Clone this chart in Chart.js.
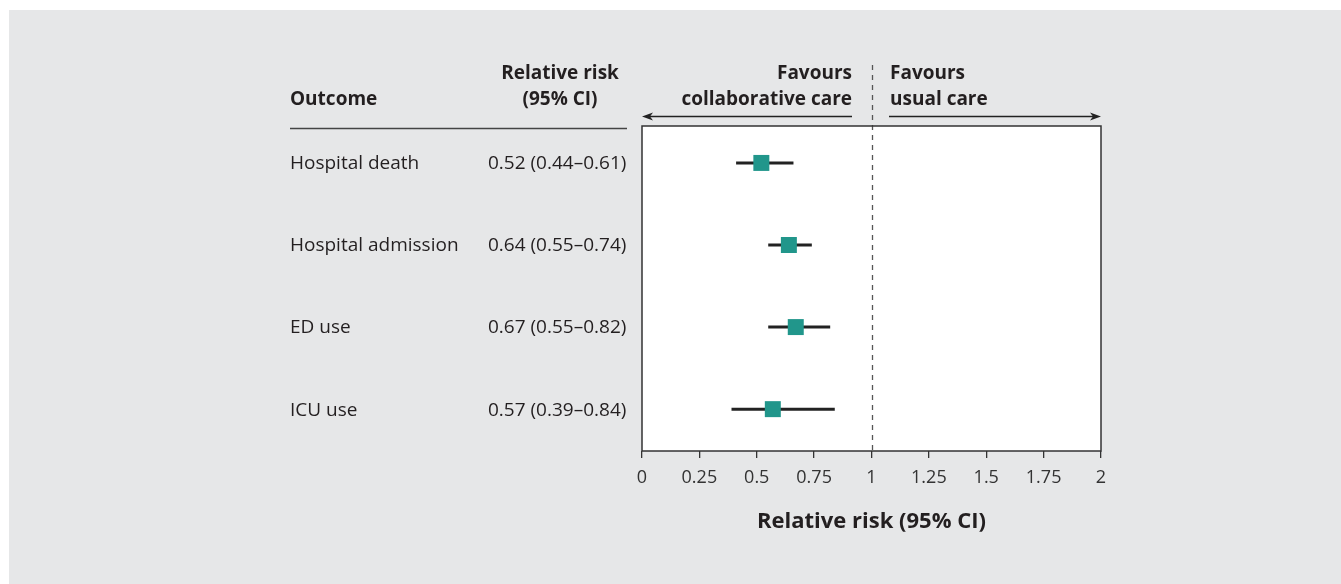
<!DOCTYPE html>
<html>
<head>
<meta charset="utf-8">
<script src="https://cdn.jsdelivr.net/npm/chart.js@4/dist/chart.umd.min.js"></script>
<style>
  html,body{margin:0;padding:0;background:#fff;}
  #wrap{position:absolute;left:9px;top:10px;width:1332px;height:574px;background:#e6e7e8;}
  canvas{display:block;}
</style>
</head>
<body>
<div id="wrap"><canvas id="forest" width="1332" height="574"></canvas></div>
<script>
// forest plot — collaborative care vs usual care
const outcomes = ["Hospital death","Hospital admission","ED use","ICU use"];
const rrLabels = ["0.52 (0.44–0.61)","0.64 (0.55–0.74)","0.67 (0.55–0.82)","0.57 (0.39–0.84)"];
const rr   = [0.52, 0.64, 0.67, 0.57];
const ciLo = [0.41, 0.55, 0.55, 0.39];
const ciHi = [0.66, 0.74, 0.82, 0.84];
const xTicks = [0,0.25,0.5,0.75,1,1.25,1.5,1.75,2];

const FONT = "'Open Sans', sans-serif";
const INK = "#231f20";

const ciSets = outcomes.map((o,i)=>({
  type:"line", data:[{x:ciLo[i],y:i},{x:ciHi[i],y:i}],
  borderColor:"#222", borderWidth:3, pointRadius:0, order:2
}));
const pointSet = {
  type:"scatter", data: rr.map((v,i)=>({x:v,y:i})),
  pointStyle:"rect", pointRadius:11.3, backgroundColor:"#21968b", borderWidth:0, order:1
};

const decor = {
  id:"decor",
  beforeDatasetsDraw(chart){
    const {ctx, chartArea:a, scales:{x}} = chart;
    ctx.save();
    ctx.fillStyle="#fff"; ctx.fillRect(a.left,a.top,a.right-a.left,a.bottom-a.top);
    // reference line at 1
    const x1 = Math.round(x.getPixelForValue(1))+0.5;
    ctx.strokeStyle="#555"; ctx.lineWidth=1.3; ctx.setLineDash([5,5]);
    ctx.beginPath(); ctx.moveTo(x1,55); ctx.lineTo(x1,a.bottom); ctx.stroke();
    ctx.setLineDash([]);
    ctx.restore();
  },
  afterDraw(chart){
    const {ctx, chartArea:a, scales:{x,y}} = chart;
    ctx.save();
    ctx.strokeStyle="#333"; ctx.lineWidth=1.5;
    ctx.strokeRect(a.left,a.top,a.right-a.left,a.bottom-a.top);
    // headers
    ctx.fillStyle=INK; ctx.textBaseline="middle";
    ctx.font="bold 19px "+FONT;
    ctx.textAlign="left"; ctx.fillText("Outcome",281,90);
    ctx.textAlign="center"; ctx.fillText("Relative risk",551,64); ctx.fillText("(95% CI)",551,90);
    ctx.textAlign="right"; ctx.fillText("Favours",843,64); ctx.fillText("collaborative care",843,90);
    ctx.textAlign="left"; ctx.fillText("Favours",881,64); ctx.fillText("usual care",881,90);
    // header rule
    ctx.strokeStyle="#444"; ctx.lineWidth=1.5;
    ctx.beginPath(); ctx.moveTo(281,118.5); ctx.lineTo(618,118.5); ctx.stroke();
    // arrows
    const ay=106.5, x0=x.getPixelForValue(0), x2=x.getPixelForValue(2);
    ctx.strokeStyle="#222"; ctx.lineWidth=1.3; ctx.fillStyle="#222";
    ctx.beginPath(); ctx.moveTo(843,ay); ctx.lineTo(x0+4,ay); ctx.stroke();
    ctx.beginPath(); ctx.moveTo(880,ay); ctx.lineTo(x2-4,ay); ctx.stroke();
    ctx.beginPath(); ctx.moveTo(x0,ay); ctx.lineTo(x0+11,ay-4); ctx.lineTo(x0+8,ay); ctx.lineTo(x0+11,ay+4); ctx.closePath(); ctx.fill();
    ctx.beginPath(); ctx.moveTo(x2,ay); ctx.lineTo(x2-11,ay-4); ctx.lineTo(x2-8,ay); ctx.lineTo(x2-11,ay+4); ctx.closePath(); ctx.fill();
    // row labels
    ctx.fillStyle=INK; ctx.font="19px "+FONT; ctx.textAlign="left";
    outcomes.forEach((o,i)=>{
      const py=y.getPixelForValue(i)+1;
      ctx.fillText(o,281,py);
      ctx.fillText(rrLabels[i],479,py);
    });
    ctx.restore();
  }
};

new Chart(document.getElementById("forest"),{
  data:{datasets:[...ciSets, pointSet]},
  options:{
    responsive:false, animation:false,
    layout:{padding:{left:633,right:240,top:116,bottom:45}},
    plugins:{legend:{display:false},tooltip:{enabled:false}},
    scales:{
      x:{type:"linear",min:0,max:2,
        afterBuildTicks:s=>{s.ticks=xTicks.map(v=>({value:v}));},
        ticks:{color:"#333",font:{family:FONT,size:18},padding:9,callback:v=>String(v)},
        grid:{drawOnChartArea:false,tickLength:7,color:"#333",lineWidth:1.3},
        border:{display:false},
        title:{display:true,text:"Relative risk (95% CI)",color:INK,font:{family:FONT,size:22,weight:"bold"},padding:{top:11,bottom:4}}
      },
      y:{type:"linear",reverse:true,min:-0.45,max:3.51,display:false}
    }
  },
  plugins:[decor]
});
</script>
</body>
</html>
